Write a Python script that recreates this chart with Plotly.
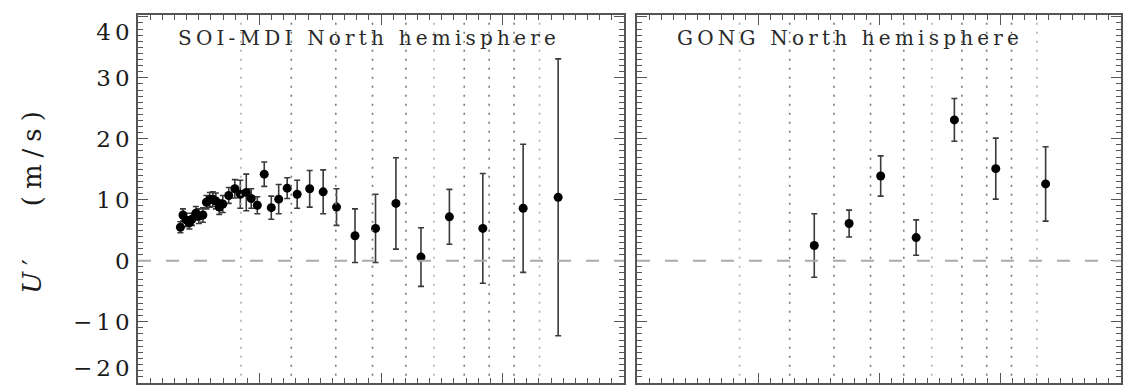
import plotly.graph_objects as go

# ---- data ----
# SOI-MDI, North hemisphere (x in arbitrary axis units, U' in m/s)
mdi_x = [0.349, 0.370, 0.394, 0.423, 0.444, 0.476, 0.501, 0.534, 0.563, 0.591,
         0.616, 0.641, 0.669, 0.698, 0.747, 0.797, 0.842, 0.891, 0.932, 0.982,
         1.039, 1.097, 1.158, 1.228, 1.310, 1.413, 1.524, 1.634, 1.786, 1.955,
         2.123, 2.329, 2.563, 2.838, 3.170, 3.458]
mdi_u = [5.5, 7.5, 6.7, 6.2, 6.8, 7.8, 7.3, 7.5, 9.6, 10.0,
         10.1, 9.8, 8.8, 9.3, 10.7, 11.8, 10.9, 11.2, 10.2, 9.1,
         14.2, 8.7, 10.1, 11.9, 10.9, 11.8, 11.3, 8.8, 4.1, 5.3,
         9.4, 0.6, 7.2, 5.3, 8.6, 10.4]
mdi_err = [0.9, 1.0, 1.1, 1.0, 1.0, 1.1, 1.2, 1.2, 1.1, 1.2,
           1.2, 1.3, 1.2, 1.4, 1.3, 1.5, 2.3, 3.0, 1.6, 1.4,
           2.0, 1.9, 2.4, 1.7, 2.3, 3.0, 3.6, 3.0, 4.4, 5.6,
           7.5, 4.8, 4.5, 9.0, 10.5, 22.7]

# GONG, North hemisphere
gong_x = [1.465, 1.753, 2.014, 2.307, 2.623, 2.965, 3.377]
gong_u = [2.5, 6.1, 13.9, 3.8, 23.1, 15.1, 12.6]
gong_err = [5.2, 2.2, 3.3, 2.9, 3.5, 5.0, 6.1]

# vertical dotted reference lines (same positions in both panels)
bounds_dark = [1.262, 1.628, 1.930, 2.205, 2.685, 2.890, 3.095]
bounds_light = [0.848, 2.436, 3.305]

ytick_vals = [-20, -10, 0, 10, 20, 30, 40]
ytick_text = ["\u221220", "\u221210", "0", "10", "20", "30", "40"]
panel_titles = ["SOI-MDI North hemisphere", "GONG North hemisphere"]

W, H = 1123, 389
FONT = "DejaVu Serif"
AXC = "#555555"
TXT = "#1a1a1a"

def sp(txt, ls):
    return '<span style="letter-spacing:%gpx">%s</span>' % (ls, txt)

# edge labels sit just inside the frame, as in the reference
def ylab(v, t):
    s = sp(t, 4)
    if v == max(ytick_vals):
        return "\u00a0<br>" + s
    if v == min(ytick_vals):
        return s + "<br>\u00a0"
    return s

fig = go.Figure()

for xs, us, es, xa, ya in [(mdi_x, mdi_u, mdi_err, "x", "y"),
                           (gong_x, gong_u, gong_err, "x2", "y2")]:
    fig.add_trace(go.Scatter(
        x=xs, y=us, mode="markers", xaxis=xa, yaxis=ya,
        marker=dict(color="black", size=9),
        error_y=dict(type="data", array=es, visible=True,
                     color="#3a3a3a", thickness=1.6, width=3),
        showlegend=False))

shapes = []
for xr in ["x", "x2"]:
    yr = "y domain" if xr == "x" else "y2 domain"
    for xv in bounds_dark:
        shapes.append(dict(type="line", xref=xr, yref=yr, x0=xv, x1=xv,
                           y0=0.02, y1=0.985,
                           line=dict(color="#777777", width=1.6, dash="2px,7px")))
    for xv in bounds_light:
        shapes.append(dict(type="line", xref=xr, yref=yr, x0=xv, x1=xv,
                           y0=0.02, y1=0.985,
                           line=dict(color="#b0b0b0", width=1.6, dash="2px,7px")))
    # zero line
    shapes.append(dict(type="line", xref=xr + " domain", yref=yr.replace(" domain", ""),
                       x0=0, x1=1, y0=0, y1=0,
                       line=dict(color="#aaaaaa", width=2, dash="13px,15px")))

xcommon = dict(range=[0, 4], showticklabels=False, ticks="inside", dtick=1,
               tick0=0, ticklen=10, tickwidth=1.2, tickcolor=AXC,
               minor=dict(dtick=0.1, ticks="inside", ticklen=5, tickcolor=AXC, tickwidth=1),
               showline=True, linecolor=AXC, linewidth=1.5, mirror="allticks",
               showgrid=False, zeroline=False, automargin=False)
ycommon = dict(range=[-20.05, 40.3], ticks="inside", tickmode="array",
               tickvals=ytick_vals, ticklen=10, tickwidth=1.2, tickcolor=AXC,
               minor=dict(dtick=1, ticks="inside", ticklen=5, tickcolor=AXC, tickwidth=1),
               showline=True, linecolor=AXC, linewidth=1.5, mirror="allticks",
               showgrid=False, zeroline=False, automargin=False)

ydom = [1 - 383 / H, 1 - 15 / H]

fig.update_layout(
    template="none",
    width=W, height=H,
    margin=dict(l=0, r=0, t=0, b=0, autoexpand=False),
    paper_bgcolor="white", plot_bgcolor="white",
    font=dict(family=FONT, color=TXT),
    xaxis=dict(domain=[138 / W, 624 / W], anchor="y", **xcommon),
    xaxis2=dict(domain=[637 / W, 1121 / W], anchor="y2", **xcommon),
    yaxis=dict(domain=ydom, anchor="x",
               ticktext=[ylab(v, t) for v, t in zip(ytick_vals, ytick_text)],
               tickfont=dict(family=FONT, size=23, color=TXT),
               ticklabelstandoff=-2, ticklabeloverflow="allow",
               title=dict(text=sp("<i>U</i>\u2032\u00a0\u00a0\u00a0(m/s)", 7),
                          font=dict(family=FONT, size=26, color=TXT),
                          standoff=24),
               **ycommon),
    yaxis2=dict(domain=ydom, anchor="x2", matches="y", showticklabels=False,
                **ycommon),
    shapes=shapes,
    annotations=[
        dict(text=sp(panel_titles[0], 4.2), xref="paper", yref="paper",
             x=176 / W, y=1 - 38 / H, xanchor="left", yanchor="middle",
             showarrow=False, font=dict(family=FONT, size=20, color="#2a2a2a")),
        dict(text=sp(panel_titles[1], 4.2), xref="paper", yref="paper",
             x=675 / W, y=1 - 38 / H, xanchor="left", yanchor="middle",
             showarrow=False, font=dict(family=FONT, size=20, color="#2a2a2a")),
    ],
)

fig.write_html("out.html")
